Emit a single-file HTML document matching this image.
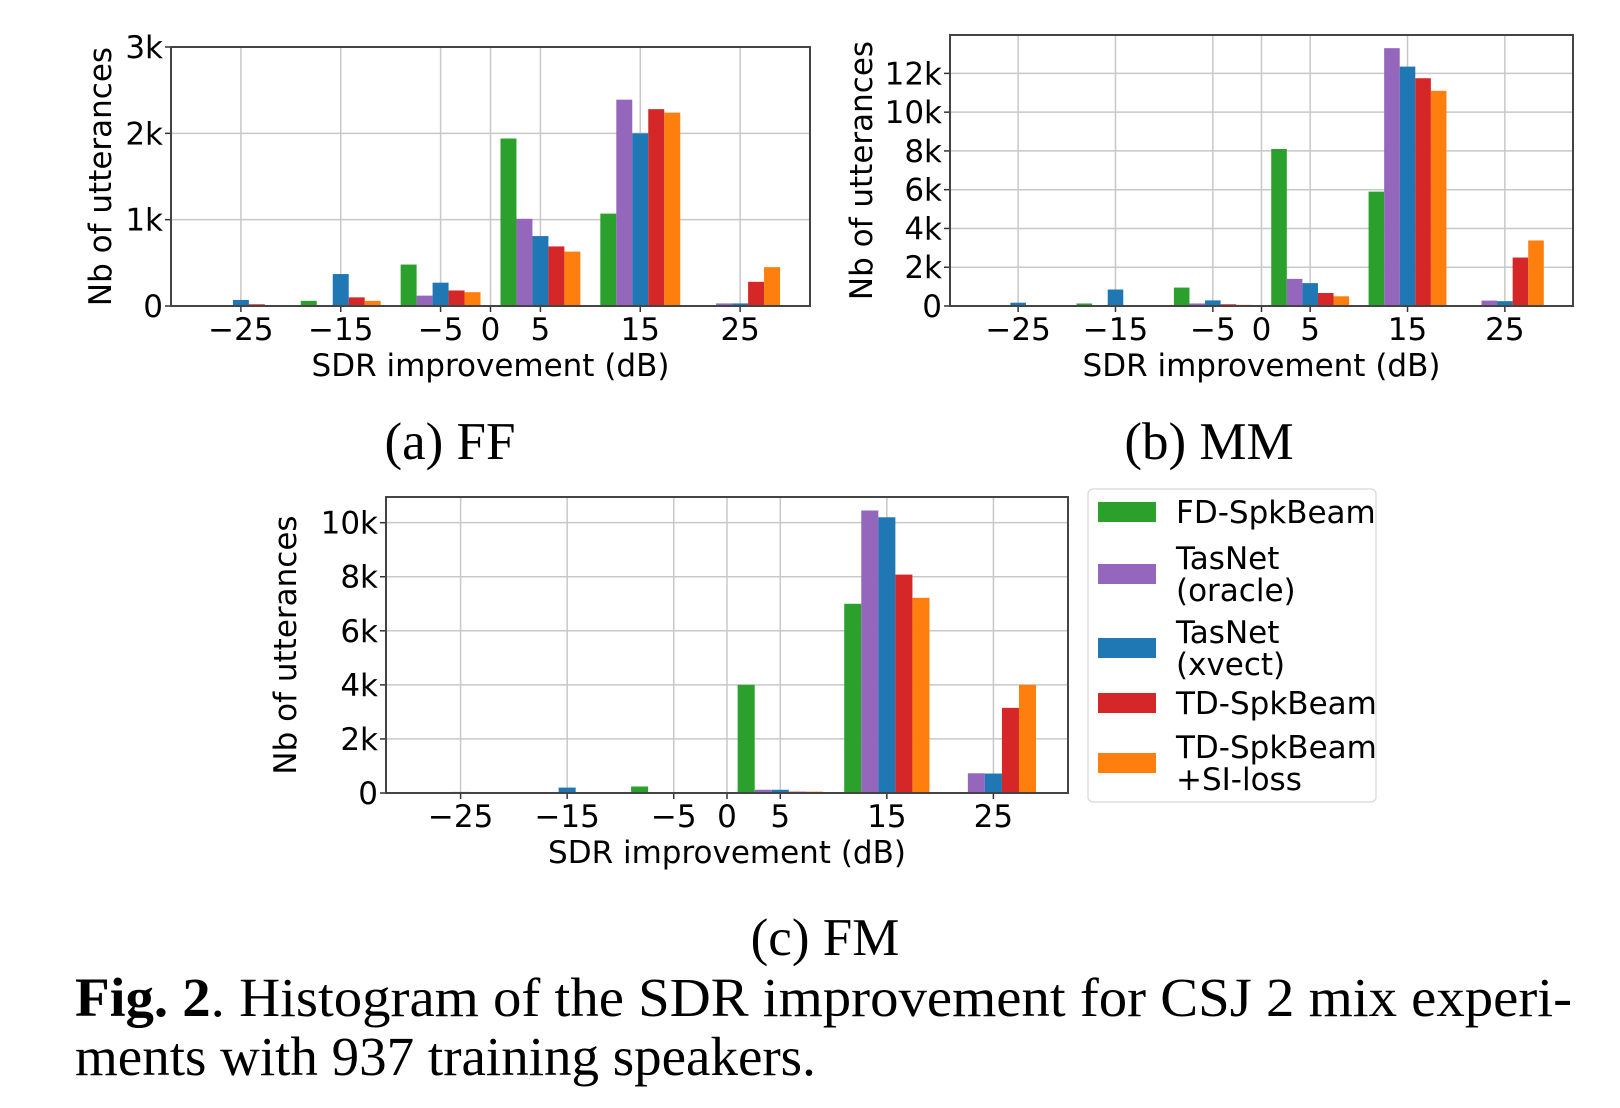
<!DOCTYPE html>
<html><head><meta charset="utf-8"><style>
html,body{margin:0;padding:0;background:#fff;}
svg{display:block;}
.tk{font-family:"DejaVu Sans","Liberation Sans",sans-serif;font-size:31px;fill:#000;}
.cap{font-family:"Liberation Serif",serif;font-size:53px;fill:#000;}
.cap2{font-family:"Liberation Serif",serif;font-size:55px;fill:#000;}
</style></head><body>
<svg id="fig" width="1620" height="1108" viewBox="0 0 1620 1108" xmlns="http://www.w3.org/2000/svg">
<g id="root"></g>
<text class="cap" x="450" y="459" text-anchor="middle">(a) FF</text>
<text class="cap" x="1209" y="459" text-anchor="middle">(b) MM</text>
<text class="cap" x="825" y="955" text-anchor="middle">(c) FM</text>
<text class="cap2" x="75" y="1016" textLength="1497" lengthAdjust="spacingAndGlyphs"><tspan font-weight="bold">Fig. 2</tspan>.  Histogram of the SDR improvement for CSJ 2 mix experi-</text>
<text class="cap2" x="75" y="1075">ments with 937 training speakers.</text>
</svg>
<script>
const bins = [-25, -15, -5, 5, 15, 25];
const seriesNames = ["FD-SpkBeam", "TasNet (oracle)", "TasNet (xvect)", "TD-SpkBeam", "TD-SpkBeam +SI-loss"];
const seriesColors = ["#2ca02c", "#9467bd", "#1f77b4", "#d62728", "#ff7f0e"];
const xTicks = [-25, -15, -5, 0, 5, 15, 25];
const xTickLabels = ["\u221225", "\u221215", "\u22125", "0", "5", "15", "25"];
// values in thousands, per series over bins
const ffGreen = [0, 0.06, 0.48, 1.94, 1.07, 0];
const ffPurple = [0, 0, 0.12, 1.01, 2.39, 0.03];
const ffBlue = [0.07, 0.37, 0.27, 0.81, 2.0, 0.03];
const ffRed = [0.02, 0.10, 0.18, 0.69, 2.28, 0.28];
const ffOrange = [0.01, 0.06, 0.16, 0.63, 2.24, 0.45];
const ffYTicks = [0, 1, 2, 3];
const mmGreen = [0, 0.13, 0.95, 8.1, 5.9, 0.03];
const mmPurple = [0, 0, 0.13, 1.4, 13.3, 0.28];
const mmBlue = [0.17, 0.85, 0.29, 1.18, 12.35, 0.25];
const mmRed = [0.02, 0.05, 0.09, 0.67, 11.75, 2.5];
const mmOrange = [0.01, 0.04, 0.06, 0.5, 11.1, 3.38];
const mmYTicks = [0, 2, 4, 6, 8, 10, 12];
const fmGreen = [0, 0.03, 0.24, 4.0, 7.0, 0];
const fmPurple = [0, 0, 0.01, 0.12, 10.45, 0.73];
const fmBlue = [0.04, 0.2, 0.02, 0.12, 10.2, 0.72];
const fmRed = [0, 0, 0, 0.05, 8.08, 3.15];
const fmOrange = [0, 0, 0, 0.05, 7.22, 4.0];
const fmYTicks = [0, 2, 4, 6, 8, 10];

const NS = "http://www.w3.org/2000/svg";
const root = document.getElementById("root");
function mk(tag, attrs, parent) {
  const e = document.createElementNS(NS, tag);
  for (const k in attrs) e.setAttribute(k, attrs[k]);
  (parent || root).appendChild(e);
  return e;
}
function drawChart(id, box, ymax, yTicks, series, ylabX) {
  const g = mk("g", {});
  
  
  const xmin = -32, xmax = 32;
  const xs = v => box.l + (v - xmin) / (xmax - xmin) * (box.r - box.l);
  const ys = v => box.b - v / ymax * (box.b - box.t);
  xTicks.forEach((t, i) => {
    const ln = mk("line", {x1: xs(t), x2: xs(t), y1: box.t, y2: box.b, stroke: "#c8c8c8", "stroke-width": 1.5}, g);
    
    
    mk("line", {x1: xs(t), x2: xs(t), y1: box.b, y2: box.b + 6, stroke: "#333", "stroke-width": 1.5}, g);
    const tx = mk("text", {x: xs(t), y: box.b + 34, "text-anchor": "middle", class: "tk"}, g);
    tx.textContent = xTickLabels[i];
    
    
  });
  yTicks.forEach(t => {
    const ln = mk("line", {x1: box.l, x2: box.r, y1: ys(t), y2: ys(t), stroke: "#c8c8c8", "stroke-width": 1.5}, g);
    
    
    mk("line", {x1: box.l - 6, x2: box.l, y1: ys(t), y2: ys(t), stroke: "#333", "stroke-width": 1.5}, g);
    const tx = mk("text", {x: box.l - 8, y: ys(t) + 11, "text-anchor": "end", class: "tk"}, g);
    tx.textContent = t === 0 ? "0" : t + "k";
    
    
  });
  const bw = 1.6;
  series.forEach((vals, s) => {
    vals.forEach((v, i) => {
      const c = bins[i] + (s - 2) * bw;
      const r = mk("rect", {x: xs(c - bw / 2), y: ys(v), width: xs(c + bw / 2) - xs(c - bw / 2), height: ys(0) - ys(v), fill: seriesColors[s]}, g);
      
      
    });
  });
  const fr = mk("rect", {x: box.l, y: box.t, width: box.r - box.l, height: box.b - box.t, fill: "none", stroke: "#444", "stroke-width": 2}, g);
  
  
  const xl = mk("text", {x: (box.l + box.r) / 2, y: box.b + 70, "text-anchor": "middle", class: "tk"}, g);
  xl.textContent = "SDR improvement (dB)";
  
  
  const cy = (box.t + box.b) / 2;
  const yl = mk("text", {x: ylabX, y: cy, "text-anchor": "middle", class: "tk", transform: `rotate(-90 ${ylabX} ${cy})`}, g);
  yl.textContent = "Nb of utterances";
  
  
}
drawChart("chart-ff", {l: 171, r: 810, t: 47, b: 306}, 3, ffYTicks, [ffGreen, ffPurple, ffBlue, ffRed, ffOrange], 111);
drawChart("chart-mm", {l: 950, r: 1573, t: 35, b: 306}, 13.98, mmYTicks, [mmGreen, mmPurple, mmBlue, mmRed, mmOrange], 872);
drawChart("chart-fm", {l: 386, r: 1068, t: 497, b: 793}, 10.95, fmYTicks, [fmGreen, fmPurple, fmBlue, fmRed, fmOrange], 296);

const lg = mk("g", {});


mk("rect", {x: 1088, y: 489, width: 288, height: 313, rx: 5, fill: "#fff", stroke: "#ddd", "stroke-width": 1.5}, lg);
const legendRows = [[["FD-SpkBeam"], 512], [["TasNet", "(oracle)"], 574], [["TasNet", "(xvect)"], 648], [["TD-SpkBeam"], 703], [["TD-SpkBeam", "+SI-loss"], 763]];
legendRows.forEach((row, s) => {
  const [lines, cy] = row;
  const sw = mk("rect", {x: 1098, y: cy - 10, width: 58, height: 20, fill: seriesColors[s]}, lg);
  
  
  lines.forEach((t, j) => {
    const ty = cy + 11 + (j - (lines.length - 1) / 2) * 32;
    const tx = mk("text", {x: 1176, y: ty, class: "tk"}, lg);
    tx.textContent = t;
    
    
  });
});
</script>
</body></html>
